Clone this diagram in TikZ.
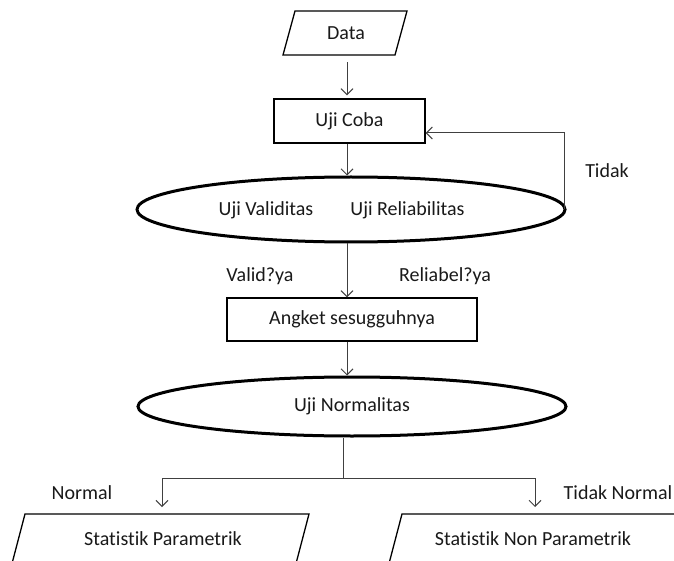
\documentclass[tikz,border=0pt]{standalone}
\usepackage{fontspec}
\setmainfont[Ligatures=NoCommon]{Carlito}
\usetikzlibrary{arrows.meta,shapes.geometric}
\begin{document}
\begin{tikzpicture}[x=1pt,y=-1pt,
  font=\fontsize{20}{24}\selectfont,
  every node/.style={text=black!90, inner sep=0pt},
  conn/.style={draw=black!75, line width=1pt},
  arr/.style={conn, -{Straight Barb[length=6pt,width=12pt]}},
  boxline/.style={draw=black, line width=1.3pt},
  rectbox/.style={boxline, rectangle},
  ell/.style={draw=black, line width=3pt, ellipse},
  lbl/.style={text=black!90}]
\useasboundingbox (0,0) rectangle (674,561);
\clip (0,0) rectangle (674,561);
\coordinate (spine) at (347,0);
% Data
\draw[boxline] (295,11) -- (407,11) -- (395,55) -- (283,55) -- cycle;
\node[minimum height=44pt] (data) at (346,33) {Data};
% Uji Coba
\node[rectbox, minimum width=151pt, minimum height=44pt] (coba) at (349.5,121) {Uji Coba};
% Ellipse 1
\node[ell, minimum width=428pt, minimum height=65pt] (val) at (351,209.5) {};
\node (tval) at (266,210) {Uji Validitas};
\node (trel) at (407.5,210) {Uji Reliabilitas};
% Angket
\node[rectbox, minimum width=250pt, minimum height=43pt] (angket) at (352,319.5) {Angket sesugguhnya};
% Ellipse 2
\node[ell, minimum width=428pt, minimum height=59pt] (norm) at (352,406.5) {Uji Normalitas};
% bottom parallelograms
\draw[boxline] (25,514) -- (309,514) -- (293,575) -- (9,575) -- cycle;
\node (par) at (163,539) {Statistik Parametrik};
\draw[boxline] (402,514) -- (690,514) -- (674,575) -- (386,575) -- cycle;
\node (npar) at (533,539) {Statistik Non Parametrik};
\coordinate (partop) at (162,514);
\coordinate (nspartop) at (535,514);
\coordinate (branch) at (343,478);
% connectors
\draw[arr, shorten <=7pt] (data.south -| spine) -- ([yshift=3pt]coba.north -| spine);
\draw[arr] (coba.south -| spine) -- (val.north -| spine);
\draw[arr] (val.south -| spine) -- (angket.north -| spine);
\draw[arr] (angket.south -| spine) -- (norm.north -| spine);
\draw[arr] ([xshift=-2pt]val.east) |- ([yshift=-12pt]coba.east);
\draw[conn] (norm.south -| branch) -- (branch);
\draw[arr, shorten >=7pt] (branch) -| (partop);
\draw[arr, shorten >=7pt] (branch) -| (nspartop);
% labels
\node[lbl] (ltidak) at (607,171) {Tidak};
\node[lbl] (lvalid) at (260,276) {Valid?ya};
\node[lbl] (lrel) at (445,276) {Reliabel?ya};
\node[lbl] (lnormal) at (82,493) {Normal};
\node[lbl] (ltn) at (618,493) {Tidak Normal};
\end{tikzpicture}
\end{document}
